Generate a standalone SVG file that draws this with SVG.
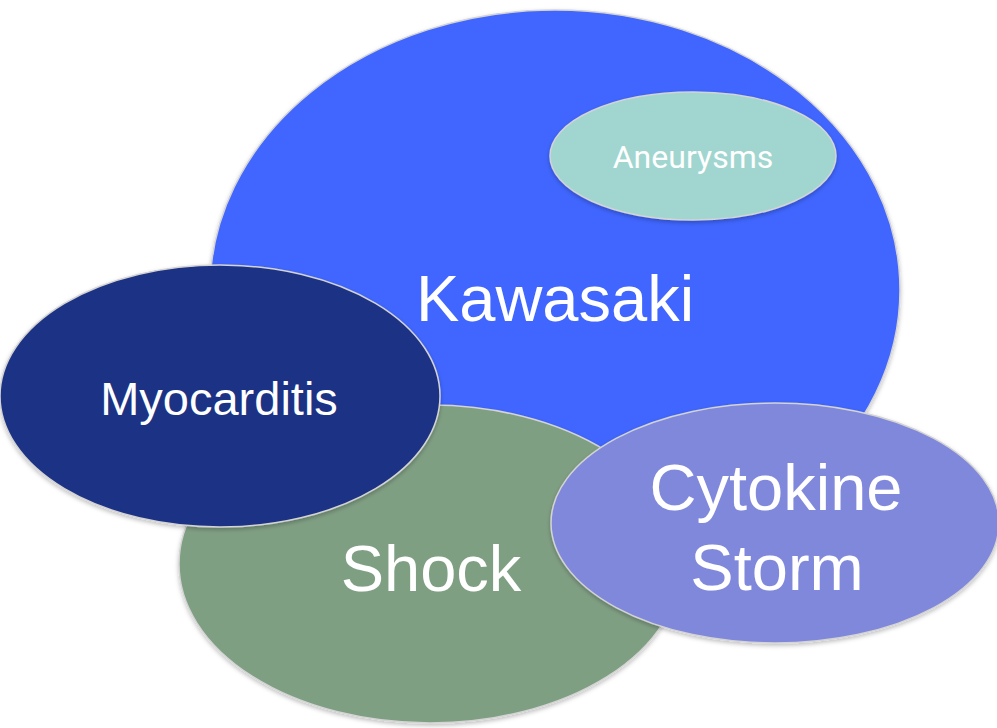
<svg xmlns="http://www.w3.org/2000/svg" width="997" height="728" viewBox="0 0 997 728">
<defs>
<filter id="sh" x="-10%" y="-10%" width="120%" height="125%">
<feDropShadow dx="0" dy="2" stdDeviation="2" flood-color="#000" flood-opacity="0.25"/>
</filter>
</defs>
<style>
.e{stroke:#d4d4d4;stroke-width:1.5;filter:url(#sh)}
.t{fill:#fff;font-family:"Liberation Sans",Arial,sans-serif;text-anchor:middle}
.r{fill:#fff;font-family:Roboto,"Liberation Sans",sans-serif;text-anchor:middle}
</style>
<rect width="997" height="728" fill="#fff"/>
<g id="kawasaki">
<ellipse class="e" cx="555" cy="290" rx="345" ry="280" fill="#3F66FF"/>
<text class="t" x="555" y="321" font-size="65">Kawasaki</text>
</g>
<g id="aneurysms">
<ellipse class="e" cx="693" cy="156" rx="143" ry="64" fill="#A0D6CF"/>
<text class="r" x="693" y="168" font-size="32">Aneurysms</text>
</g>
<g id="shock">
<ellipse class="e" cx="430" cy="564" rx="251" ry="159" fill="#7F9F83"/>
<text class="t" x="431" y="591" font-size="65">Shock</text>
</g>
<g id="myocarditis">
<ellipse class="e" cx="220" cy="396" rx="220" ry="131" fill="#1F3384"/>
<text class="t" x="219" y="415" font-size="47">Myocarditis</text>
</g>
<g id="cytokine">
<ellipse class="e" cx="775" cy="523" rx="224" ry="120" fill="#8088DC"/>
<text class="t" x="776" y="510" font-size="65">Cytokine</text>
<text class="t" x="777" y="590" font-size="65">Storm</text>
</g>
<g id="connectors"/>
</svg>
